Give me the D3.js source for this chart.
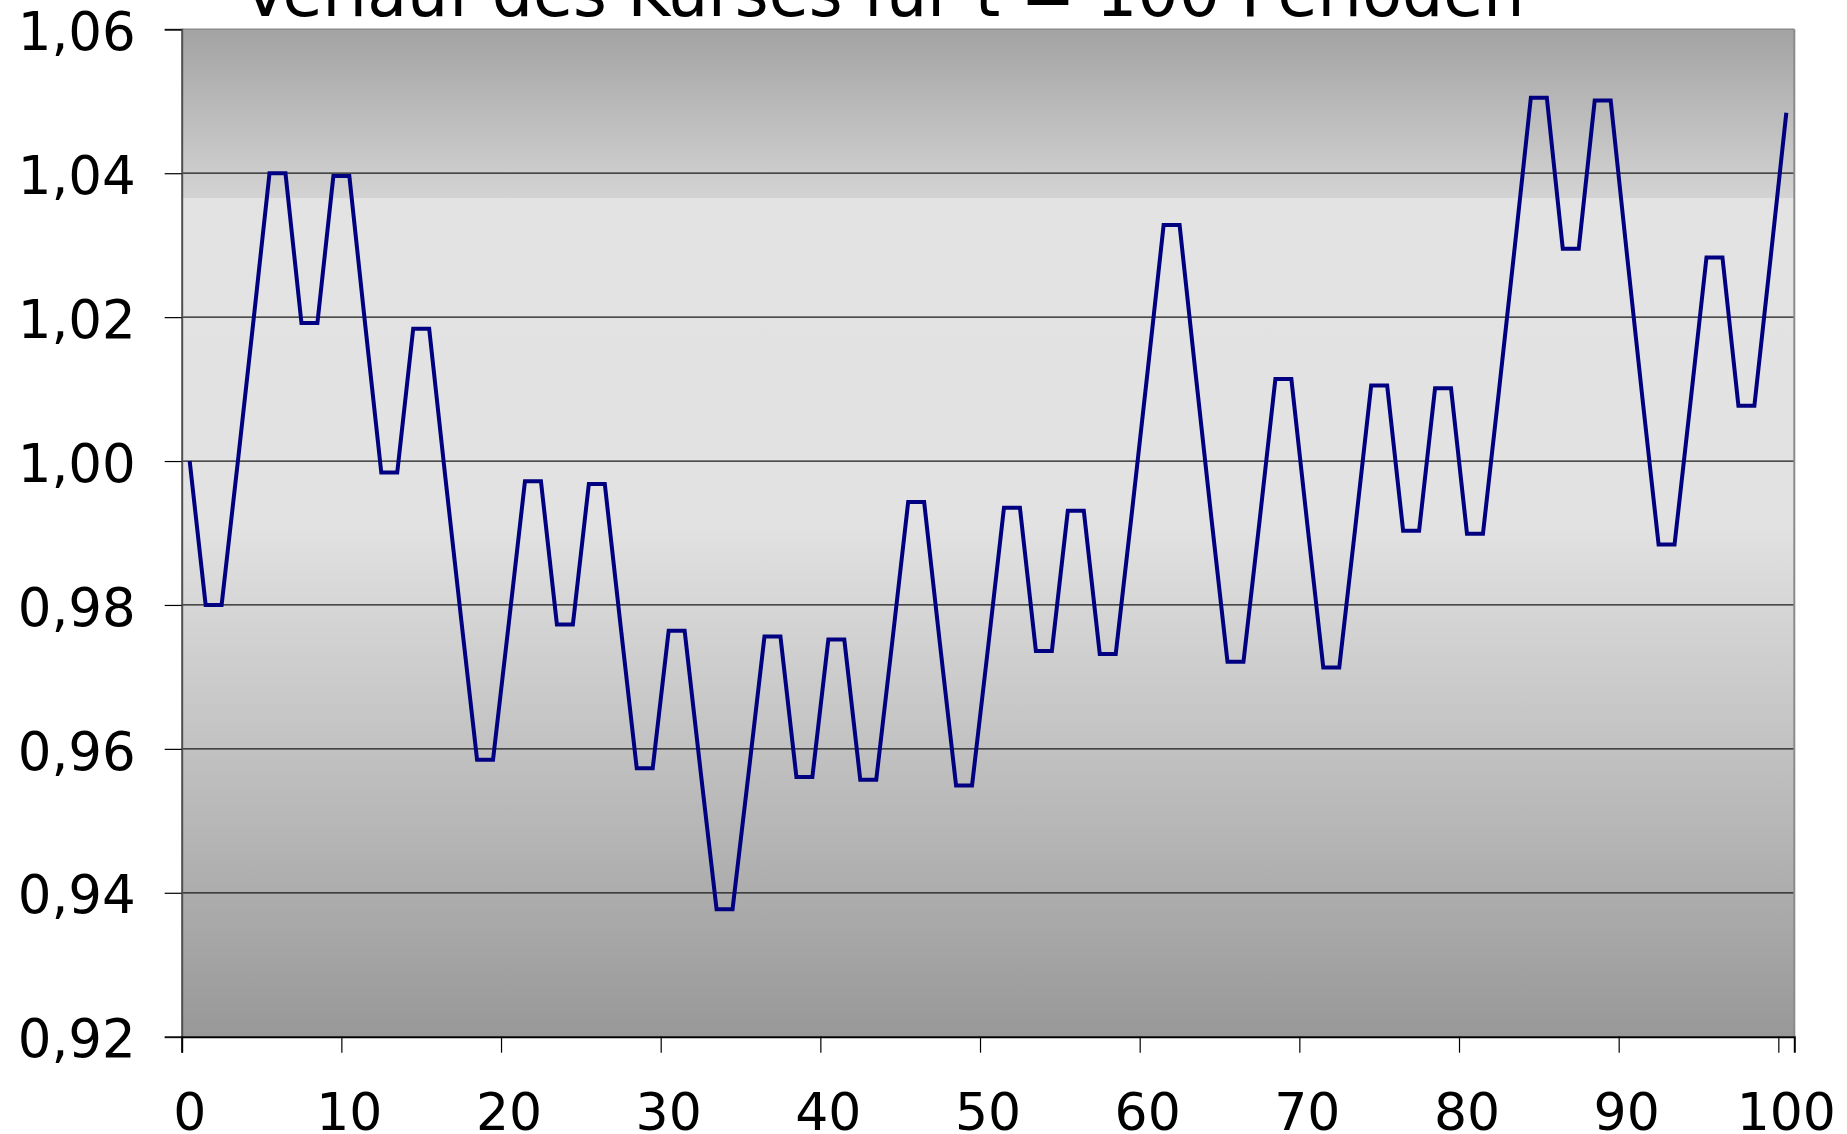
<!DOCTYPE html>
<html>
<head>
<meta charset="utf-8">
<script src="https://cdn.jsdelivr.net/npm/d3@7"></script>
<style>
  html, body { margin: 0; padding: 0; background: #ffffff; }
  svg { display: block; }
  text { font-family: "DejaVu Sans", Verdana, sans-serif; fill: #000; }
</style>
</head>
<body>
<svg id="chart" width="1847" height="1134"></svg>
<script>
// ---- data ----
const titleText = "Verlauf des Kurses für t = 100 Perioden";
const periods = d3.range(0, 101);           // t = 0 ... 100
const kurs = [
  1.0000, 0.9800, 0.9800, 0.9996, 1.0196, 1.0400, 1.0400, 1.0192, 1.0192, 1.0396,
  1.0396, 1.0188, 0.9984, 0.9984, 1.0184, 1.0184, 0.9980, 0.9781, 0.9585, 0.9585,
  0.9777, 0.9972, 0.9972, 0.9773, 0.9773, 0.9968, 0.9968, 0.9769, 0.9573, 0.9573,
  0.9764, 0.9764, 0.9569, 0.9377, 0.9377, 0.9565, 0.9756, 0.9756, 0.9561, 0.9561,
  0.9752, 0.9752, 0.9557, 0.9557, 0.9748, 0.9943, 0.9943, 0.9744, 0.9549, 0.9549,
  0.9740, 0.9935, 0.9935, 0.9736, 0.9736, 0.9931, 0.9931, 0.9732, 0.9732, 0.9926,
  1.0125, 1.0328, 1.0328, 1.0122, 0.9919, 0.9721, 0.9721, 0.9915, 1.0114, 1.0114,
  0.9912, 0.9713, 0.9713, 0.9907, 1.0105, 1.0105, 0.9903, 0.9903, 1.0101, 1.0101,
  0.9899, 0.9899, 1.0097, 1.0299, 1.0505, 1.0505, 1.0295, 1.0295, 1.0501, 1.0501,
  1.0291, 1.0085, 0.9884, 0.9884, 1.0082, 1.0283, 1.0283, 1.0077, 1.0077, 1.0279,
  1.0484
];
const yTicks = [0.92, 0.94, 0.96, 0.98, 1.00, 1.02, 1.04, 1.06];
const yTickLabels = ["0,92", "0,94", "0,96", "0,98", "1,00", "1,02", "1,04", "1,06"];
const xTicks = [0, 10, 20, 30, 40, 50, 60, 70, 80, 90, 100];
const xTickLabels = ["0", "10", "20", "30", "40", "50", "60", "70", "80", "90", "100"];

// ---- layout ----
const plot = { left: 181.7, right: 1794.3, top: 29.3, bottom: 1036.7 };
const svg = d3.select("#chart");

const x = d3.scaleLinear().domain([0, 101]).range([plot.left, plot.right]);
const y = d3.scaleLinear().domain([0.92, 1.06]).range([plot.bottom, plot.top]);

// background gradient
const defs = svg.append("defs");
const grad = defs.append("linearGradient")
  .attr("id", "bg").attr("x1", 0).attr("y1", 0).attr("x2", 0).attr("y2", 1);
[
  [0.00, "#a3a3a3"],
  [0.167, "#d3d3d3"],
  [0.168, "#e3e3e3"],
  [0.49, "#e2e2e2"],
  [1.00, "#989898"]
].forEach(([o, c]) => grad.append("stop").attr("offset", o).attr("stop-color", c));

svg.append("rect")
  .attr("x", plot.left).attr("y", plot.top)
  .attr("width", plot.right - plot.left).attr("height", plot.bottom - plot.top)
  .attr("fill", "url(#bg)");

// gridlines
svg.append("g").selectAll("line")
  .data(yTicks.filter(v => v > 0.92 && v < 1.06))
  .join("line")
  .attr("x1", plot.left).attr("x2", plot.right)
  .attr("y1", d => y(d)).attr("y2", d => y(d))
  .attr("stroke", "#1a1a1a").attr("stroke-width", 1.2);

// frame top / right
svg.append("line")
  .attr("x1", plot.left).attr("x2", plot.right)
  .attr("y1", plot.top).attr("y2", plot.top)
  .attr("stroke", "#8a8a8a").attr("stroke-width", 1.5);
svg.append("line")
  .attr("x1", plot.right).attr("x2", plot.right)
  .attr("y1", plot.top).attr("y2", plot.bottom)
  .attr("stroke", "#8a8a8a").attr("stroke-width", 2);

// y axis
const yAxis = d3.axisLeft(y)
  .tickValues(yTicks)
  .tickSize(17)
  .tickPadding(29)
  .tickFormat((d, i) => yTickLabels[i]);
const gy = svg.append("g").attr("transform", `translate(${plot.left},0)`).call(yAxis);
gy.select(".domain").attr("stroke", "#505050").attr("stroke-width", 2);
gy.selectAll(".tick line").attr("stroke", "#000").attr("stroke-width", 1.2);
gy.selectAll(".tick text")
  .attr("font-family", "DejaVu Sans")
  .attr("font-size", 53)
  .attr("dy", "0.38em")
  .attr("fill", "#000");

// x axis (ticks at boundaries)
const xAxis = d3.axisBottom(x)
  .tickValues(xTicks)
  .tickSize(16)
  .tickFormat("");
const gx = svg.append("g").attr("transform", `translate(0,${plot.bottom})`).call(xAxis);
gx.select(".domain").attr("stroke", "#000").attr("stroke-width", 2);
gx.selectAll(".tick line").attr("stroke", "#000").attr("stroke-width", 1.2);

// x labels (at category centres)
svg.append("g").selectAll("text")
  .data(xTicks)
  .join("text")
  .attr("x", d => x(d + 0.5))
  .attr("y", 1130)
  .attr("text-anchor", "middle")
  .attr("font-size", 52)
  .text((d, i) => xTickLabels[i]);

// line
const line = d3.line()
  .x((d, i) => x(periods[i] + 0.5))
  .y(d => y(d));
svg.append("path")
  .datum(kurs)
  .attr("d", line)
  .attr("fill", "none")
  .attr("stroke", "#000080")
  .attr("stroke-width", 4)
  .attr("stroke-linejoin", "miter");

// title (cut off at top, as in the original)
svg.append("text")
  .attr("x", 243)
  .attr("y", 16)
  .attr("font-size", 65)
  .attr("text-anchor", "start")
  .text(titleText);
</script>
</body>
</html>
